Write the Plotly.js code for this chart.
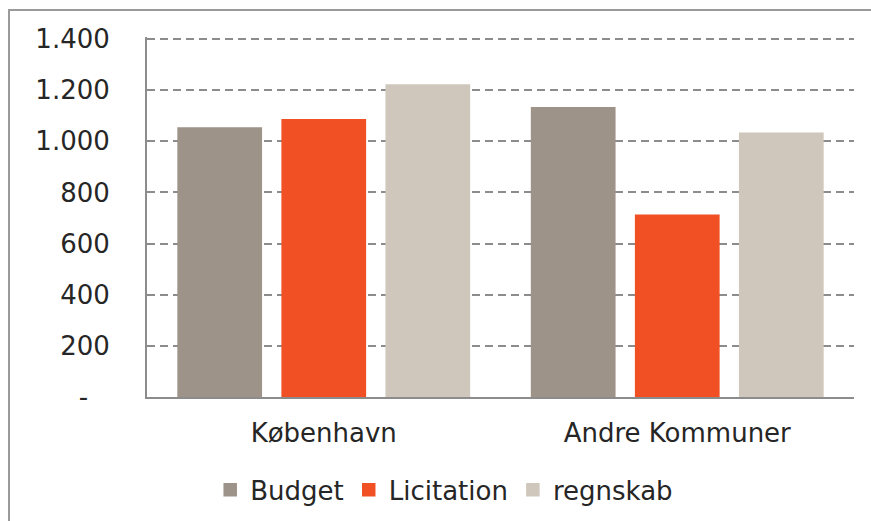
<!DOCTYPE html>
<html>
<head>
<meta charset="utf-8">
<script src="https://cdn.plot.ly/plotly-3.0.1.min.js"></script>
<style>
  html, body { margin: 0; padding: 0; background: #ffffff; overflow: hidden; }
  #frame { position: absolute; left: 8px; top: 9px; width: 1000px; height: 700px;
           border-left: 2px solid #9a9a9a; border-top: 2px solid #9a9a9a; z-index: 0; }
  #chart { position: absolute; left: 0; top: 0; width: 871px; height: 521px; z-index: 1; }
</style>
</head>
<body>
<div id="frame"></div>
<div id="chart"></div>
<script>
const categories = ['København', 'Andre Kommuner'];
const budget = [1052, 1131];
const licitation = [1084, 711];
const regnskab = [1220, 1032];
const seriesNames = ['Budget', 'Licitation', 'regnskab'];
const yTickVals = [0, 200, 400, 600, 800, 1000, 1200, 1400];
const yTickText = ['-\u2007\u2009', '200', '400', '600', '800', '1.000', '1.200', '1.400'];

const colors = ['#9e9389', '#f05023', '#cfc7bc'];
const FONT = 'DejaVu Sans, Verdana, sans-serif';

const traces = [budget, licitation, regnskab].map((vals, i) => ({
  type: 'bar',
  name: seriesNames[i],
  x: categories,
  y: vals,
  marker: { color: colors[i], line: { width: 1.5, color: colors[i] } },
  hoverinfo: 'skip'
}));

const layout = {
  width: 871,
  height: 521,
  margin: { l: 147, r: 17, t: 37, b: 124, pad: 0 },
  paper_bgcolor: 'rgba(0,0,0,0)',
  plot_bgcolor: 'rgba(0,0,0,0)',
  barmode: 'group',
  bargap: 0.117,
  bargroupgap: 0.2,
  font: { family: FONT, size: 26, color: '#262626' },
  showlegend: true,
  legend: {
    orientation: 'h',
    xref: 'container', yref: 'container',
    x: 0.51, xanchor: 'center',
    y: 0.06, yanchor: 'middle',
    font: { family: FONT, size: 26, color: '#262626' },
    itemclick: false, itemdoubleclick: false,
    traceorder: 'normal'
  },
  xaxis: {
    type: 'category',
    showline: true, linecolor: '#8c8c8c', linewidth: 2,
    showgrid: false, zeroline: false,
    ticks: '',
    ticklabelstandoff: 12,
    tickfont: { family: FONT, size: 26, color: '#262626' }
  },
  yaxis: {
    range: [0, 1408],
    tickmode: 'array',
    tickvals: yTickVals,
    ticktext: yTickText,
    showline: true, linecolor: '#8c8c8c', linewidth: 2,
    showgrid: true, gridcolor: '#8c8c8c', gridwidth: 2, griddash: '8px,5px',
    zeroline: false,
    ticks: '',
    ticklabelstandoff: 30,
    tickfont: { family: FONT, size: 26, color: '#262626' }
  }
};

Plotly.newPlot('chart', traces, layout, { staticPlot: true, displayModeBar: false });
</script>
</body>
</html>
